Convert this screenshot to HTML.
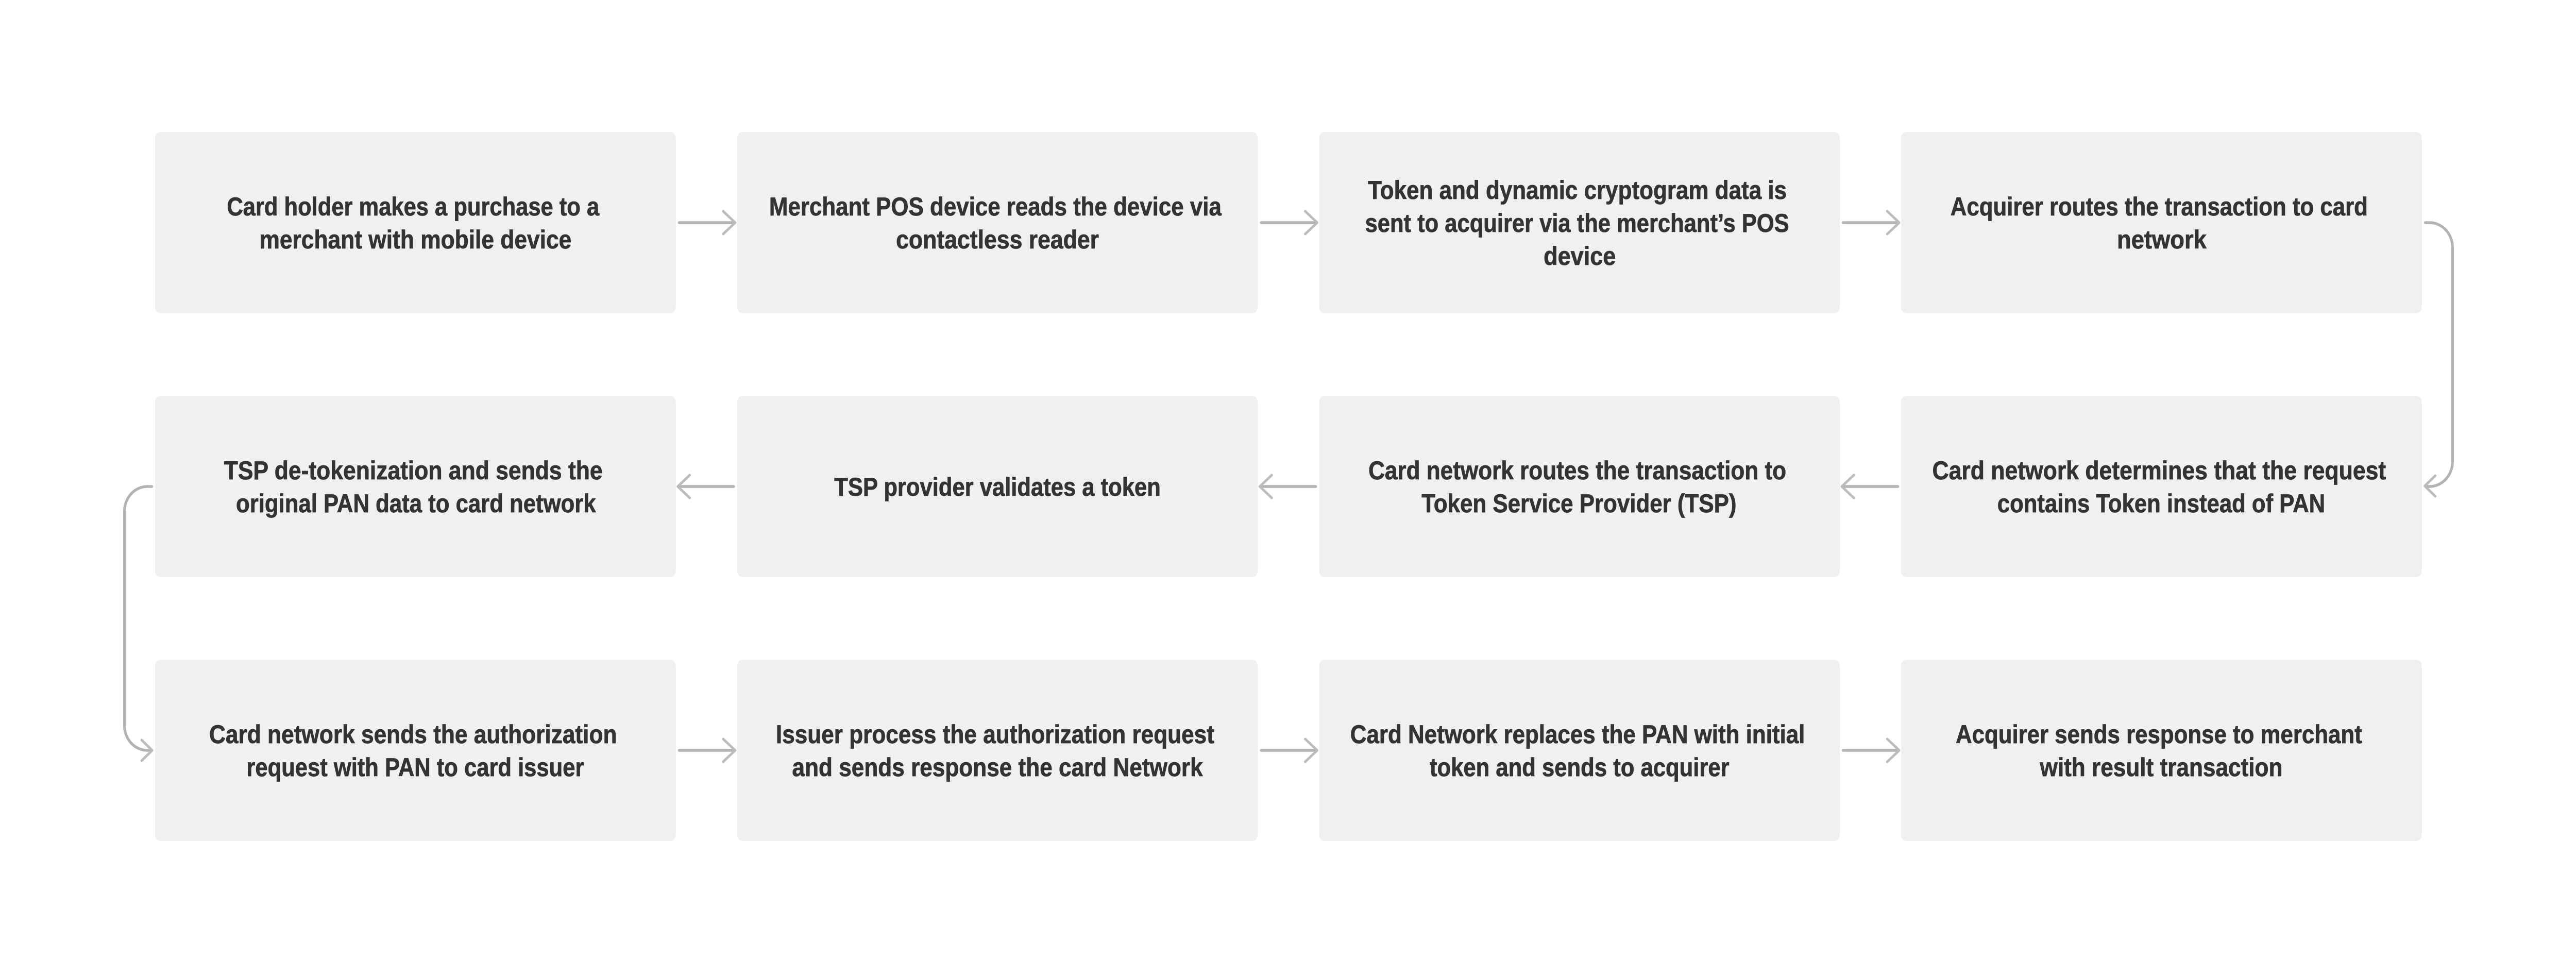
<!DOCTYPE html>
<html lang="en">
<head>
<meta charset="utf-8">
<title>Card tokenization flow</title>
<style>
html,body{margin:0;padding:0;background:#fff;width:100%;height:100%}
svg{display:block;width:100vw;height:100vh}
text{font-family:"Liberation Sans",Arial,sans-serif;font-weight:700;font-size:50px;fill:#333;stroke:#333;stroke-width:.8px}
.b{fill:#f0f0f0}
.l{fill:none;stroke:#b3b3b3;stroke-width:5.5;stroke-linecap:round;stroke-linejoin:round}
.h{fill:none;stroke:#bcbcbc;stroke-width:5;stroke-linecap:round;stroke-linejoin:round}
</style>
</head>
<body>
<svg xmlns="http://www.w3.org/2000/svg" viewBox="0 0 5382 1888" preserveAspectRatio="none">
<rect width="5382" height="1888" fill="#fff"/>

<rect class="b" x="324" y="256" width="1088" height="352" rx="12"/>
<rect class="b" x="1540" y="256" width="1088" height="352" rx="12"/>
<rect class="b" x="2756" y="256" width="1088" height="352" rx="12"/>
<rect class="b" x="3972" y="256" width="1088" height="352" rx="12"/>
<rect class="b" x="324" y="768" width="1088" height="352" rx="12"/>
<rect class="b" x="1540" y="768" width="1088" height="352" rx="12"/>
<rect class="b" x="2756" y="768" width="1088" height="352" rx="12"/>
<rect class="b" x="3972" y="768" width="1088" height="352" rx="12"/>
<rect class="b" x="324" y="1280" width="1088" height="352" rx="12"/>
<rect class="b" x="1540" y="1280" width="1088" height="352" rx="12"/>
<rect class="b" x="2756" y="1280" width="1088" height="352" rx="12"/>
<rect class="b" x="3972" y="1280" width="1088" height="352" rx="12"/>

<text x="474" y="418" textLength="778" lengthAdjust="spacingAndGlyphs">Card holder makes a purchase to a</text>
<text x="542" y="482" textLength="652" lengthAdjust="spacingAndGlyphs">merchant with mobile device</text>

<text x="1607" y="418" textLength="945" lengthAdjust="spacingAndGlyphs">Merchant POS device reads the device via</text>
<text x="1872" y="482" textLength="424" lengthAdjust="spacingAndGlyphs">contactless reader</text>

<text x="2858" y="386" textLength="875" lengthAdjust="spacingAndGlyphs">Token and dynamic cryptogram data is</text>
<text x="2852" y="450" textLength="886" lengthAdjust="spacingAndGlyphs">sent to acquirer via the merchant’s POS</text>
<text x="3225" y="514" textLength="151" lengthAdjust="spacingAndGlyphs">device</text>

<text x="4075" y="418" textLength="872" lengthAdjust="spacingAndGlyphs">Acquirer routes the transaction to card</text>
<text x="4423" y="482" textLength="187" lengthAdjust="spacingAndGlyphs">network</text>

<text x="468" y="930" textLength="791" lengthAdjust="spacingAndGlyphs">TSP de-tokenization and sends the</text>
<text x="493" y="994" textLength="752" lengthAdjust="spacingAndGlyphs">original PAN data to card network</text>

<text x="1743" y="962" textLength="682" lengthAdjust="spacingAndGlyphs">TSP provider validates a token</text>

<text x="2859" y="930" textLength="873" lengthAdjust="spacingAndGlyphs">Card network routes the transaction to</text>
<text x="2970" y="994" textLength="658" lengthAdjust="spacingAndGlyphs">Token Service Provider (TSP)</text>

<text x="4037" y="930" textLength="948" lengthAdjust="spacingAndGlyphs">Card network determines that the request</text>
<text x="4173" y="994" textLength="685" lengthAdjust="spacingAndGlyphs">contains Token instead of PAN</text>

<text x="437" y="1442" textLength="852" lengthAdjust="spacingAndGlyphs">Card network sends the authorization</text>
<text x="515" y="1506" textLength="705" lengthAdjust="spacingAndGlyphs">request with PAN to card issuer</text>

<text x="1621" y="1442" textLength="916" lengthAdjust="spacingAndGlyphs">Issuer process the authorization request</text>
<text x="1655" y="1506" textLength="858" lengthAdjust="spacingAndGlyphs">and sends response the card Network</text>

<text x="2821" y="1442" textLength="950" lengthAdjust="spacingAndGlyphs">Card Network replaces the PAN with initial</text>
<text x="2987" y="1506" textLength="626" lengthAdjust="spacingAndGlyphs">token and sends to acquirer</text>

<text x="4086" y="1442" textLength="849" lengthAdjust="spacingAndGlyphs">Acquirer sends response to merchant</text>
<text x="4262" y="1506" textLength="507" lengthAdjust="spacingAndGlyphs">with result transaction</text>

<!-- row 1 arrows -->
<path class="l" d="M1419 432H1532"/><path class="h" d="M1511 410L1536 432L1511 454"/>
<path class="l" d="M2635 432H2748"/><path class="h" d="M2727 410L2752 432L2727 454"/>
<path class="l" d="M3851 432H3964"/><path class="h" d="M3943 410L3968 432L3943 454"/>

<!-- row 2 arrows -->
<path class="l" d="M1533 944H1420"/><path class="h" d="M1441 922L1416 944L1441 966"/>
<path class="l" d="M2749 944H2636"/><path class="h" d="M2657 922L2632 944L2657 966"/>
<path class="l" d="M3965 944H3852"/><path class="h" d="M3873 922L3848 944L3873 966"/>

<!-- row 3 arrows -->
<path class="l" d="M1419 1456H1532"/><path class="h" d="M1511 1434L1536 1456L1511 1478"/>
<path class="l" d="M2635 1456H2748"/><path class="h" d="M2727 1434L2752 1456L2727 1478"/>
<path class="l" d="M3851 1456H3964"/><path class="h" d="M3943 1434L3968 1456L3943 1478"/>

<!-- right connector -->
<path class="l" d="M5067 432H5076A48 48 0 0 1 5124 480V896A48 48 0 0 1 5076 944H5070"/>
<path class="h" d="M5088 923L5066 943L5088 963"/>

<!-- left connector -->
<path class="l" d="M317 944H308A48 48 0 0 0 260 992V1408A48 48 0 0 0 308 1456H314"/>
<path class="h" d="M296 1436L318 1456L296 1476"/>
</svg>
</body>
</html>
